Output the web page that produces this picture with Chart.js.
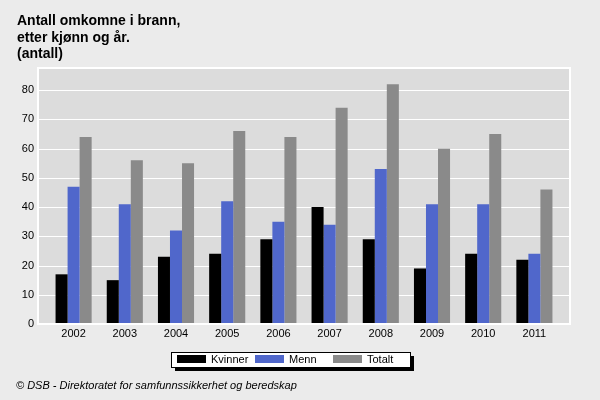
<!DOCTYPE html>
<html>
<head>
<meta charset="utf-8">
<script src="https://cdn.jsdelivr.net/npm/chart.js@4/dist/chart.umd.min.js"></script>
<style>
  html, body { margin: 0; padding: 0; background: #ebebeb; }
  #wrap { width: 600px; height: 400px; position: relative; }
</style>
</head>
<body>
<div id="wrap"><canvas id="myChart" width="600" height="400"></canvas></div>
<script>
// data
var years = ["2002", "2003", "2004", "2005", "2006", "2007", "2008", "2009", "2010", "2011"];
var kvinner = [17, 15, 23, 24, 29, 40, 29, 19, 24, 22];
var menn = [47, 41, 32, 42, 35, 34, 53, 41, 41, 24];
var totalt = [64, 56, 55, 66, 64, 74, 82, 60, 65, 46];
var yTicks = [0, 10, 20, 30, 40, 50, 60, 70, 80];

var titleLines = ["Antall omkomne i brann,", "etter kjønn og år.", "(antall)"];
var footerText = "© DSB - Direktoratet for samfunnssikkerhet og beredskap";

var FONT = "Arial, 'Liberation Sans', sans-serif";
var PLOT_EXTRA = 10; // plot frame reaches a bit past the first/last category

// page background, plot background, grid and white frame, title, footer, legend
var decor = {
    id: 'decor',
    beforeDraw: function(chart) {
        var c = chart.ctx, a = chart.chartArea;
        c.save();
        c.fillStyle = '#ebebeb';
        c.fillRect(0, 0, chart.width, chart.height);
        c.fillStyle = '#dcdcdc';
        c.fillRect(a.left - PLOT_EXTRA, a.top, a.right - a.left + 2 * PLOT_EXTRA, a.bottom - a.top);
        c.restore();
    },
    beforeDatasetsDraw: function(chart) {
        var c = chart.ctx, a = chart.chartArea, y = chart.scales.y;
        c.save();
        c.strokeStyle = '#ffffff';
        c.lineWidth = 1;
        yTicks.forEach(function(v) {
            var py = Math.round(y.getPixelForValue(v)) + 0.5;
            c.beginPath();
            c.moveTo(a.left - PLOT_EXTRA, py);
            c.lineTo(a.right + PLOT_EXTRA, py);
            c.stroke();
        });
        c.restore();
    },
    afterDraw: function(chart) {
        var c = chart.ctx, a = chart.chartArea;
        c.save();
        // white frame round the plot
        c.strokeStyle = '#ffffff';
        c.lineWidth = 2;
        c.strokeRect(a.left - PLOT_EXTRA, a.top, a.right - a.left + 2 * PLOT_EXTRA, a.bottom - a.top);

        // title
        c.fillStyle = '#000';
        c.font = 'bold 14px ' + FONT;
        c.textBaseline = 'alphabetic';
        c.textAlign = 'left';
        titleLines.forEach(function(t, i) {
            c.fillText(t, 17, 25 + i * 16.5);
        });

        // footer
        c.font = 'italic 11px ' + FONT;
        c.fillText(footerText, 16, 389);

        // legend box with shadow
        var bx = 171, by = 352, bw = 239, bh = 15;
        c.fillStyle = '#000';
        c.fillRect(bx + 4, by + 4, bw, bh);
        c.fillStyle = '#fff';
        c.fillRect(bx, by, bw, bh);
        c.strokeStyle = '#000';
        c.lineWidth = 1;
        c.strokeRect(bx + 0.5, by + 0.5, bw, bh);

        var xs = [177, 255, 333];
        c.font = '11px ' + FONT;
        c.textBaseline = 'middle';
        chart.data.datasets.forEach(function(ds, i) {
            c.fillStyle = ds.backgroundColor;
            c.fillRect(xs[i], by + 3, 29, 8);
            c.fillStyle = '#000';
            c.fillText(ds.label, xs[i] + 34, by + 8);
        });
        c.restore();
    }
};

var ctx = document.getElementById('myChart').getContext('2d');
new Chart(ctx, {
    type: 'bar',
    data: {
        labels: years,
        datasets: [
            { label: 'Kvinner', data: kvinner, backgroundColor: '#000000' },
            { label: 'Menn', data: menn, backgroundColor: '#5067cb' },
            { label: 'Totalt', data: totalt, backgroundColor: '#8a8a8a' }
        ]
    },
    options: {
        responsive: false,
        animation: false,
        devicePixelRatio: 1,
        layout: { padding: { top: 68, right: 40, bottom: 56, left: 0 } },
        datasets: {
            bar: { categoryPercentage: 0.705, barPercentage: 1.0, borderWidth: 0 }
        },
        plugins: {
            legend: { display: false },
            title: { display: false },
            tooltip: { enabled: false }
        },
        scales: {
            x: {
                grid: { display: false, drawTicks: false },
                border: { display: false },
                ticks: { color: '#000', font: { family: FONT, size: 11 }, padding: 3, maxRotation: 0 },
                afterFit: function(s) { s.height = 20; }
            },
            y: {
                min: 0,
                max: 87.6,
                afterBuildTicks: function(s) {
                    s.ticks = yTicks.map(function(v) { return { value: v }; });
                },
                grid: { display: false, drawTicks: false },
                border: { display: false },
                ticks: { color: '#000', font: { family: FONT, size: 11 }, padding: 14 },
                afterFit: function(s) { s.width = 48; }
            }
        }
    },
    plugins: [decor]
});
</script>
</body>
</html>
